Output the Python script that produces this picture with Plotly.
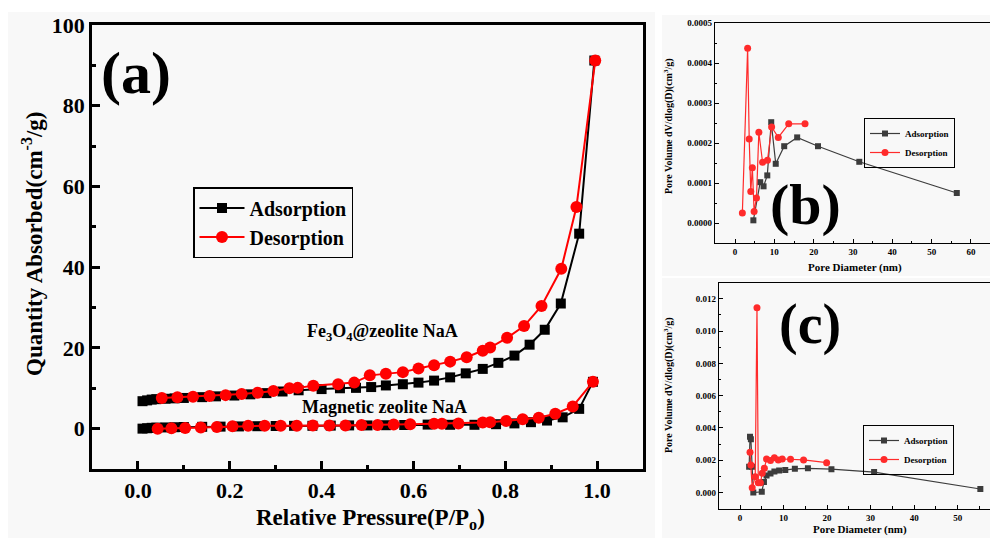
import plotly.graph_objects as go

W, H = 998, 538
OFF = 8  # page body margin
FONT = "Liberation Serif, Times New Roman, serif"

# ---------------- data: panel (a) isotherms ----------------
fe_ads_p = [0.010, 0.020, 0.030, 0.040, 0.060, 0.080, 0.100, 0.140, 0.170, 0.210, 0.245, 0.280, 0.315, 0.350, 0.400, 0.440,
            0.475, 0.508, 0.540, 0.577, 0.611, 0.645, 0.680, 0.714, 0.751, 0.785, 0.820, 0.853, 0.886, 0.921, 0.961, 0.994]
fe_ads_q = [6.8, 7.0, 7.2, 7.3, 7.4, 7.5, 7.6, 7.8, 8.0, 8.2, 8.5, 8.8, 9.2, 9.5, 9.8, 10.0,
            10.1, 10.3, 10.7, 11.0, 11.4, 11.9, 12.7, 13.7, 14.8, 16.3, 18.1, 20.8, 24.5, 31.0, 48.3, 91.2]
fe_des_p = [0.052, 0.086, 0.120, 0.156, 0.191, 0.226, 0.261, 0.295, 0.330, 0.348, 0.382, 0.436, 0.471, 0.505,
            0.540, 0.577, 0.611, 0.645, 0.680, 0.716, 0.751, 0.767, 0.804, 0.841, 0.879, 0.922, 0.955, 0.996]
fe_des_q = [7.6, 7.8, 7.9, 8.1, 8.3, 8.6, 8.9, 9.3, 10.0, 10.1, 10.6, 11.0, 11.4, 13.2,
            13.6, 14.0, 14.9, 15.7, 16.6, 17.7, 19.3, 20.1, 22.5, 25.4, 30.4, 39.6, 54.9, 91.2]
mag_ads_p = [0.010, 0.020, 0.030, 0.040, 0.060, 0.080, 0.100, 0.140, 0.180, 0.220, 0.260, 0.300, 0.340, 0.380, 0.420,
             0.460, 0.500, 0.540, 0.580, 0.631, 0.680, 0.733, 0.780, 0.820, 0.856, 0.891, 0.925, 0.961, 0.991]
mag_ads_q = [0.0, 0.1, 0.2, 0.25, 0.3, 0.35, 0.4, 0.45, 0.5, 0.55, 0.6, 0.65, 0.7, 0.7, 0.75,
             0.8, 0.8, 0.85, 0.9, 1.0, 0.95, 0.95, 1.1, 1.3, 1.6, 2.0, 2.8, 4.9, 11.6]
mag_des_p = [0.043, 0.073, 0.103, 0.137, 0.172, 0.206, 0.240, 0.276, 0.311, 0.346, 0.381, 0.417, 0.452, 0.487,
             0.522, 0.557, 0.593, 0.645, 0.662, 0.698, 0.751, 0.767, 0.802, 0.838, 0.873, 0.909, 0.947, 0.991]
mag_des_q = [0.0, 0.1, 0.15, 0.3, 0.4, 0.6, 0.7, 0.7, 0.7, 0.7, 0.8, 0.8, 0.8, 0.9,
             0.9, 1.0, 1.1, 1.2, 1.2, 1.3, 1.5, 1.6, 1.9, 2.3, 2.7, 3.7, 5.5, 11.6]

# ---------------- data: panel (b) pore size distribution ----------------
b_ads_d = [4.66, 6.4, 7.25, 8.2, 9.2, 10.35, 12.5, 15.8, 21.1, 31.6, 56.4]
b_ads_v = [0.0000067, 0.000102, 0.0000917, 0.000119, 0.000252, 0.000148, 0.000192, 0.000214, 0.000192, 0.000153, 0.000075]
b_des_d = [1.86, 3.2, 3.6, 4.0, 4.4, 4.85, 5.45, 6.05, 7.0, 8.25, 9.3, 11.0, 13.65, 17.8]
b_des_v = [0.000025, 0.000437, 0.00021, 0.000079, 0.000138, 0.000029, 0.0000625, 0.000227, 0.000152, 0.000157,
           0.00024, 0.000214, 0.000248, 0.000248]

# ---------------- data: panel (c) pore size distribution ----------------
c_ads_d = [2.1, 2.3, 2.5, 2.75, 3.06, 5.0, 5.5, 6.1, 7.0, 7.9, 9.0, 10.4, 12.6, 15.6, 21.0, 30.8, 55.2]
c_ads_v = [0.0016, 0.00346, 0.0033, 0.0016, 0.0, 0.00005, 0.00065, 0.00105, 0.00118, 0.0013, 0.00136, 0.0014,
           0.00147, 0.0015, 0.00145, 0.00127, 0.00022]
c_des_d = [2.3, 2.5, 2.8, 3.5, 3.9, 4.2, 4.7, 5.1, 5.6, 6.1, 7.0, 7.9, 8.8, 9.7, 11.6, 14.6, 19.9]
c_des_v = [0.0025, 0.0017, 0.0003, 0.00098, 0.01145, 0.0006, 0.0006, 0.0012, 0.0015, 0.00208, 0.00198, 0.00216,
           0.00202, 0.00208, 0.00206, 0.00202, 0.00185]

series_names = ["Adsorption", "Desorption"]


def px(x):
    return min(max((x - OFF) / W, 0.0), 1.0)


def py(y):
    return min(max(1 - (y - OFF) / H, 0.0), 1.0)


fig = go.Figure()

BLACK = "#000000"
RED = "#ff0000"
GRAY = "#3c3c3c"
RED2 = "#ff2b2b"

# panel (a)
fig.add_trace(go.Scatter(x=fe_ads_p, y=fe_ads_q, mode="lines+markers", name=series_names[0],
                         line=dict(color=BLACK, width=2), marker=dict(symbol="square", size=10, color=BLACK),
                         xaxis="x", yaxis="y", legend="legend"))
fig.add_trace(go.Scatter(x=fe_des_p, y=fe_des_q, mode="lines+markers", name=series_names[1],
                         line=dict(color=RED, width=2), marker=dict(symbol="circle", size=12, color=RED),
                         xaxis="x", yaxis="y", legend="legend"))
fig.add_trace(go.Scatter(x=mag_ads_p, y=mag_ads_q, mode="lines+markers", name=series_names[0], showlegend=False,
                         line=dict(color=BLACK, width=2), marker=dict(symbol="square", size=10, color=BLACK),
                         xaxis="x", yaxis="y"))
fig.add_trace(go.Scatter(x=mag_des_p, y=mag_des_q, mode="lines+markers", name=series_names[1], showlegend=False,
                         line=dict(color=RED, width=2), marker=dict(symbol="circle", size=12, color=RED),
                         xaxis="x", yaxis="y"))

# panel (b)
fig.add_trace(go.Scatter(x=b_ads_d, y=b_ads_v, mode="lines+markers", name=series_names[0],
                         line=dict(color=GRAY, width=1.2), marker=dict(symbol="square", size=6, color=GRAY),
                         xaxis="x2", yaxis="y2", legend="legend2"))
fig.add_trace(go.Scatter(x=b_des_d, y=b_des_v, mode="lines+markers", name=series_names[1],
                         line=dict(color=RED2, width=1.2), marker=dict(symbol="circle", size=7, color=RED2),
                         xaxis="x2", yaxis="y2", legend="legend2"))

# panel (c)
fig.add_trace(go.Scatter(x=c_ads_d, y=c_ads_v, mode="lines+markers", name=series_names[0],
                         line=dict(color=GRAY, width=1.2), marker=dict(symbol="square", size=6, color=GRAY),
                         xaxis="x3", yaxis="y3", legend="legend3"))
fig.add_trace(go.Scatter(x=c_des_d, y=c_des_v, mode="lines+markers", name=series_names[1],
                         line=dict(color=RED2, width=1.2), marker=dict(symbol="circle", size=7, color=RED2),
                         xaxis="x3", yaxis="y3", legend="legend3"))


def axis(domain, rng, dtick, minor_dtick, size, lw, ticklen, fmt=None, anchor=None, tick0=0):
    d = dict(domain=domain, range=rng, showgrid=False, zeroline=False, showline=True, mirror=True,
             automargin=False,
             linecolor="black", linewidth=lw, ticks="inside", ticklen=ticklen, tickwidth=lw,
             tickcolor="black", tick0=tick0, dtick=dtick,
             minor=dict(ticks="inside", ticklen=ticklen * 0.55, tickwidth=lw, tickcolor="black",
                        dtick=minor_dtick, tick0=tick0, showgrid=False),
             tickfont=dict(family=FONT, size=size, color="black", weight="bold"),
             anchor=anchor, fixedrange=True)
    if fmt:
        d["tickformat"] = fmt
    return d


# panel (c): right frame lies beyond the visible window; range extends accordingly
c_left, c_zero, c_per10 = 719, 740, 43.54
c_right_px = OFF + W
c_rng = [(c_left - c_zero) / c_per10 * 10, (c_right_px - c_zero) / c_per10 * 10]

fig.update_layout(
    width=W, height=H, margin=dict(l=0, r=0, t=0, b=0, pad=0),
    paper_bgcolor="white", plot_bgcolor="rgba(0,0,0,0)",
    xaxis=axis([px(92), px(643)], [-0.1, 1.1], 0.2, 0.1, 22, 2.5, 8, ".1f", "y"),
    yaxis=axis([py(469), py(25)], [-10, 100], 20, 10, 22, 2.5, 8, None, "x"),
    xaxis2=axis([px(715), px(991)], [-5.1, 65.1], 10, 5, 9, 1.3, 4, None, "y2"),
    yaxis2=axis([py(243), py(23)], [-0.00005, 0.0005], 0.0001, 0.00005, 9, 1.3, 4, ".4f", "x2"),
    xaxis3=axis([px(c_left), 1.0], c_rng, 10, 5, 9, 1.3, 4, None, "y3"),
    yaxis3=axis([py(508.7), py(282.7)], [-0.001, 0.013], 0.002, 0.001, 9, 1.3, 4, ".3f", "x3"),
    legend=dict(x=px(193), y=py(187), xanchor="left", yanchor="top", bordercolor="black", borderwidth=1.5,
                bgcolor="rgba(0,0,0,0)", font=dict(family=FONT, size=20, color="black", weight="bold"),
                tracegroupgap=0, itemclick=False, itemwidth=45),
    legend2=dict(x=px(864), y=py(118), xanchor="left", yanchor="top", bordercolor="black", borderwidth=1,
                 bgcolor="rgba(0,0,0,0)", font=dict(family=FONT, size=9, color="black", weight="bold"),
                 tracegroupgap=0, itemclick=False),
    legend3=dict(x=px(863), y=py(425), xanchor="left", yanchor="top", bordercolor="black", borderwidth=1,
                 bgcolor="rgba(0,0,0,0)", font=dict(family=FONT, size=9, color="black", weight="bold"),
                 tracegroupgap=0, itemclick=False),
    showlegend=True,
)

# background panels
for x0, y0, x1, y1 in [(8, 12, 655, 546), (662, 15, 1006, 276), (662, 278, 1006, 546)]:
    fig.add_shape(type="rect", xref="paper", yref="paper", x0=px(x0), x1=px(x1), y0=py(y1), y1=py(y0),
                  fillcolor="#f8f8f8", line=dict(width=0), layer="below")


def ann(text, x, y, size, angle=0):
    fig.add_annotation(text=text, x=px(x), y=py(y), xref="paper", yref="paper", showarrow=False,
                       textangle=angle, xanchor="center", yanchor="middle",
                       font=dict(family=FONT, size=size, color="black", weight="bold"))


ann("Quantity Absorbed(cm<sup>-3</sup>/g)", 32, 244, 23, -90)
ann("Relative Pressure(P/P<sub>o</sub>)", 370, 519, 23)
ann("(a)", 136, 73, 60)
ann("Fe<sub>3</sub>O<sub>4</sub>@zeolite NaA", 382, 332, 18)
ann("Magnetic zeolite NaA", 384, 407, 18)

ann("Pore Volume dV/dlog(D)(cm<sup>3</sup>/g)", 668, 126, 10, -90)
ann("Pore Diameter (nm)", 855, 267, 11)
ann("(b)", 805, 204, 58)

ann("Pore Volume dV/dlog(D)(cm<sup>3</sup>/g)", 668, 385, 10, -90)
ann("Pore Diameter (nm)", 860, 529, 11)
ann("(c)", 810, 324, 56)

fig.write_html("out.html")
